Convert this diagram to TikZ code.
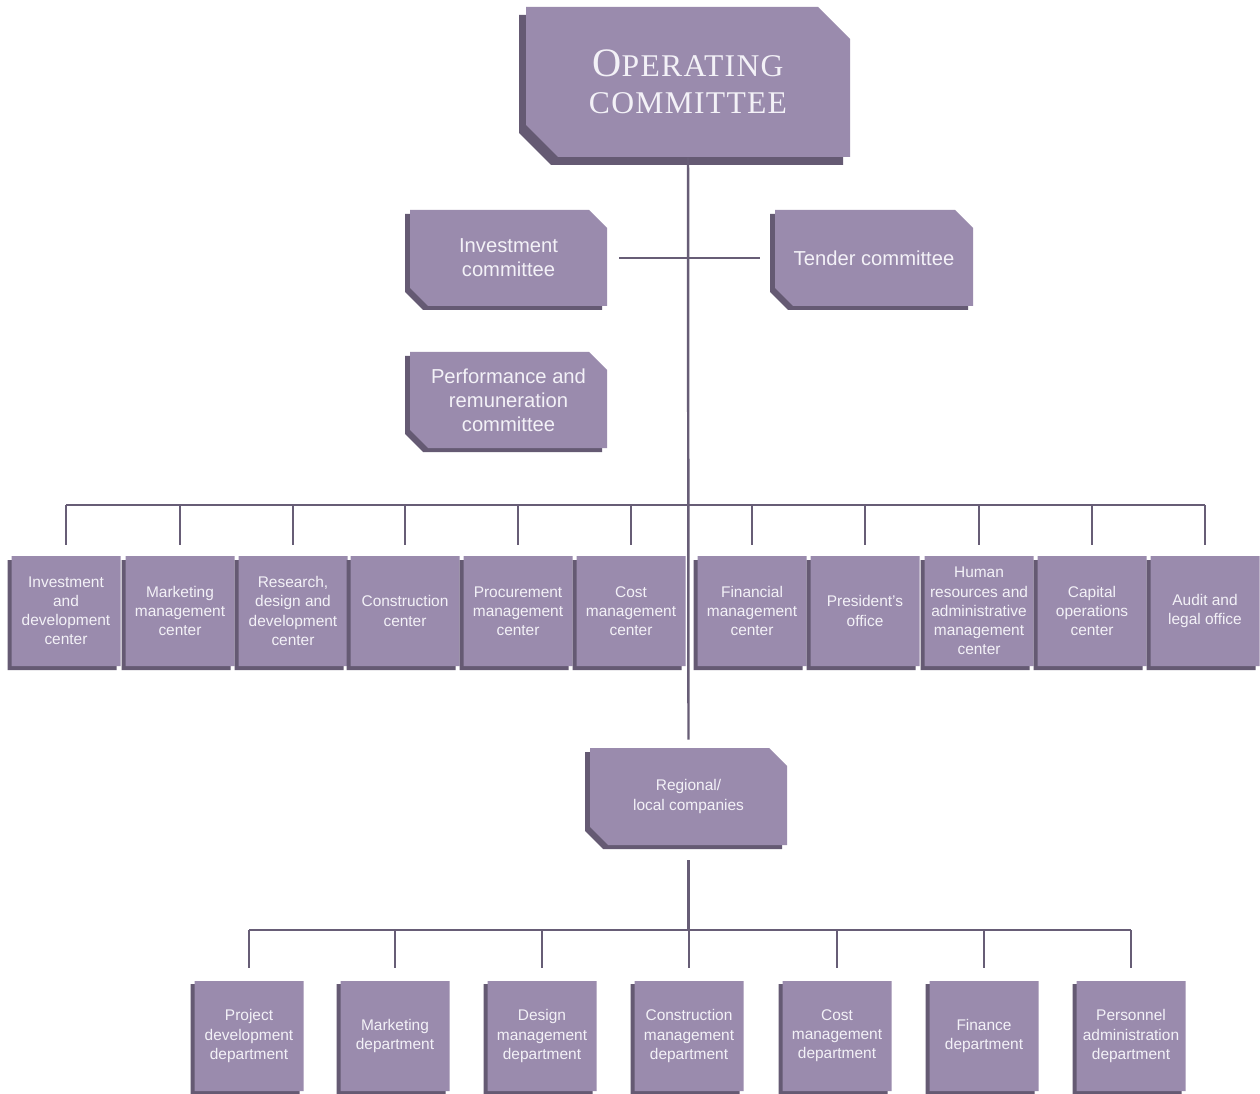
\documentclass[tikz,border=0pt]{standalone}
\usepackage{fontspec}
\setsansfont{Liberation Sans}
\newfontfamily\titlefont[LetterSpace=4]{Liberation Serif}
\usetikzlibrary{fit,calc}
\definecolor{boxc}{RGB}{154,139,173}
\definecolor{shadc}{RGB}{101,90,115}
\definecolor{txtc}{RGB}{243,241,247}
\definecolor{linec}{RGB}{103,93,118}
\newcommand\cutbox[9]{%
  \fill[shadc,shift={(#7)}] (#2,#3) -- ({#4-#6},#3) -- (#4,{#3+#6}) -- (#4,#5) -- ({#2+#6},#5) -- (#2,{#5-#6}) -- cycle;
  \fill[boxc] (#2,#3) -- ({#4-#6},#3) -- (#4,{#3+#6}) -- (#4,#5) -- ({#2+#6},#5) -- (#2,{#5-#6}) -- cycle;
  \node[fit={(#2,#3) (#4,#5)}, inner sep=0pt] (#1) {};
  \node[#8, inner sep=0pt] at (#1.center) {#9};
}
\tikzset{
  big/.style={font=\sffamily\fontsize{11.5}{13.6}\selectfont, text=txtc, align=center},
  small/.style={font=\sffamily\fontsize{8.8}{10.9}\selectfont, text=txtc, align=center},
  ttl/.style={font=\titlefont\fontsize{18}{21}\selectfont, text=txtc, align=center},
  conn/.style={draw=linec, line width=1.4pt}
}
\begin{document}
\begin{tikzpicture}[x=0.02cm,y=-0.02cm]
\fill[white] (0,0) rectangle (1260,1094);
\useasboundingbox (0,0) rectangle (1260,1094);
% top
\cutbox{top}{526}{7}{850}{157}{32}{-7,8}{ttl}{{\fontsize{23}{21}\selectfont O}PERATING\\COMMITTEE}
% committees
\cutbox{inv}{410}{210}{607}{306}{18}{-5,4}{big}{Investment\\committee}
\cutbox{tender}{775}{210}{973}{306}{18}{-5,4}{big}{Tender committee}
\cutbox{perf}{410}{352}{607}{448}{18}{-5,4}{big}{Performance and\\remuneration\\committee}
% middle row
\foreach \n/\cx/\t in {
  b1/66/{Investment\\and\\development\\center},
  b2/180/{Marketing\\management\\center},
  b3/293/{Research,\\design and\\development\\center},
  b4/405/{Construction\\center},
  b5/518/{Procurement\\management\\center},
  b6/631/{Cost\\management\\center},
  b7/752/{Financial\\management\\center},
  b8/865/{President's\\office},
  b9/979/{Human\\resources and\\administrative\\management\\center},
  b10/1092/{Capital\\operations\\center},
  b11/1205/{Audit and\\legal office}}{
  \cutbox{\n}{\cx-54.5}{556}{\cx+54.5}{666}{0}{-4,4}{small}{\t}
}
% regional
\cutbox{reg}{590}{748}{787}{845}{18}{-5,4}{small}{Regional/\\local companies}
% bottom row
\foreach \n/\cx/\t in {
  d1/249/{Project\\development\\department},
  d2/395/{Marketing\\department},
  d3/542/{Design\\management\\department},
  d4/689/{Construction\\management\\department},
  d5/837/{Cost\\management\\department},
  d6/984/{Finance\\department},
  d7/1131/{Personnel\\administration\\department}}{
  \cutbox{\n}{\cx-54.5}{981}{\cx+54.5}{1091}{0}{-4,3}{small}{\t}
}
% connectors
\coordinate (busy) at (0,505);
\coordinate (lbusy) at (0,930);
\draw[conn] (top.south) -- ($(reg.north)+(0,-8)$);
\draw[conn] ($(inv.east)+(12,0)$) -- ($(tender.west)+(-15,0)$);
\draw[conn] ($(perf.east)+(12,3)$) -- ($(perf.east)+(12,3)$ -| top.south);
\draw[conn] (b1.north |- busy) -- (b11.north |- busy);
\foreach \n in {b1,b2,b3,b4,b5,b6,b7,b8,b9,b10,b11}{
  \draw[conn] (\n.north) ++(0,-11) -- (\n.north |- busy);
}
\draw[conn] ($(reg.south)+(0,15)$) -- (reg.south |- lbusy);
\draw[conn] (d1.north |- lbusy) -- (d7.north |- lbusy);
\foreach \n in {d1,d2,d3,d4,d5,d6,d7}{
  \draw[conn] (\n.north) ++(0,-13) -- (\n.north |- lbusy);
}
\end{tikzpicture}
\end{document}
